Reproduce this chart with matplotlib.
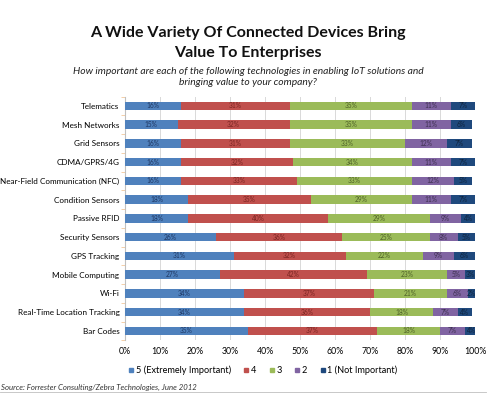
import matplotlib
matplotlib.use("Agg")
import matplotlib.pyplot as plt
import numpy as np
from matplotlib.lines import Line2D

categories = ["Telematics", "Mesh Networks", "Grid Sensors", "CDMA/GPRS/4G",
              "Near-Field Communication (NFC)", "Condition Sensors", "Passive RFID",
              "Security Sensors", "GPS Tracking", "Mobile Computing", "Wi-Fi",
              "Real-Time Location Tracking", "Bar Codes"]
s5 = [16, 15, 16, 16, 16, 18, 18, 26, 31, 27, 34, 34, 35]
s4 = [31, 32, 31, 32, 33, 35, 40, 36, 32, 42, 37, 36, 37]
s3 = [35, 35, 33, 34, 33, 29, 29, 25, 22, 23, 21, 18, 18]
s2 = [11, 11, 12, 11, 12, 11, 9, 8, 9, 5, 6, 7, 7]
s1 = [7, 6, 7, 7, 5, 7, 4, 5, 6, 3, 2, 4, 4]
series_names = ["5 (Extremely Important)", "4", "3", "2", "1 (Not Important)"]
xticks = [0, 10, 20, 30, 40, 50, 60, 70, 80, 90, 100]

colors = ["#4F81BD", "#C0504D", "#9BBB59", "#8064A2", "#1F497D"]
text_colors = ["#1F3864", "#7B2522", "#4F6228", "#3F3151", "#0F243E"]

plt.rcParams['font.family'] = ['Lato', 'DejaVu Sans']

fig = plt.figure(figsize=(4.96, 3.99), dpi=100)
ax = fig.add_axes([0.252, 0.147, 0.706, 0.611])

y = np.arange(len(categories))
left = np.zeros(len(categories))
for vals, c, tc, name in zip([s5, s4, s3, s2, s1], colors, text_colors, series_names):
    vals = np.array(vals, dtype=float)
    ax.barh(y, vals, left=left, height=0.45, color=c, label=name, zorder=3)
    for yi, l, v in zip(y, left, vals):
        ax.text(l + v / 2, yi, f"{int(v)}%", ha="center", va="center",
                fontsize=4.8, color=tc, zorder=4)
    left += vals

ax.set_xlim(0, 100)
ax.set_ylim(len(categories) - 0.5, -0.5)
ax.set_xticks(xticks)
ax.set_xticklabels([f"{t}%" for t in xticks], fontsize=6.3)
ax.set_yticks(y)
ax.set_yticklabels(categories, fontsize=5.85)
ax.tick_params(axis="y", length=0, pad=4)
ax.tick_params(axis="x", length=0, pad=5)
ax.set_yticks(np.arange(-0.5, len(categories), 1), minor=True)
ax.tick_params(axis="y", which="minor", length=3, color="#F2C89A")
ax.grid(axis="x", color="#D9D9D9", linewidth=0.7, zorder=0)
for s in ["top", "right", "bottom"]:
    ax.spines[s].set_visible(False)
ax.spines["left"].set_color("#BFBFBF")
ax.spines["left"].set_linewidth(0.8)

handles = [Line2D([0], [0], marker="s", linestyle="", markersize=3.5,
                  markerfacecolor=c, markeredgecolor=c) for c in colors]
fig.legend(handles, series_names, loc="center left", bbox_to_anchor=(0.24, 0.072),
           ncol=5, frameon=False, fontsize=6.6, handletextpad=0.1,
           columnspacing=1.3, handlelength=0.8)

fig.text(0.5, 0.918, "A Wide Variety Of Connected Devices Bring", ha="center",
         va="center", fontsize=11.5, fontweight="bold", color="#111111")
fig.text(0.5, 0.866, "Value To Enterprises", ha="center", va="center",
         fontsize=11.5, fontweight="bold", color="#111111")
fig.text(0.5, 0.822, "How important are each of the following technologies in enabling IoT solutions and",
         ha="center", va="center", fontsize=7.4, style="italic", color="#222222")
fig.text(0.5, 0.794, "bringing value to your company?", ha="center", va="center",
         fontsize=7.4, style="italic", color="#222222")
fig.text(0.002, 0.03, "Source: Forrester Consulting/Zebra Technologies, June 2012",
         ha="left", va="center", fontsize=5.6, style="italic", color="#333333")
fig.add_artist(Line2D([0, 0.98], [0.018, 0.018], color="#BFBFBF", linewidth=0.6))

fig.savefig("out.png", dpi=100)
